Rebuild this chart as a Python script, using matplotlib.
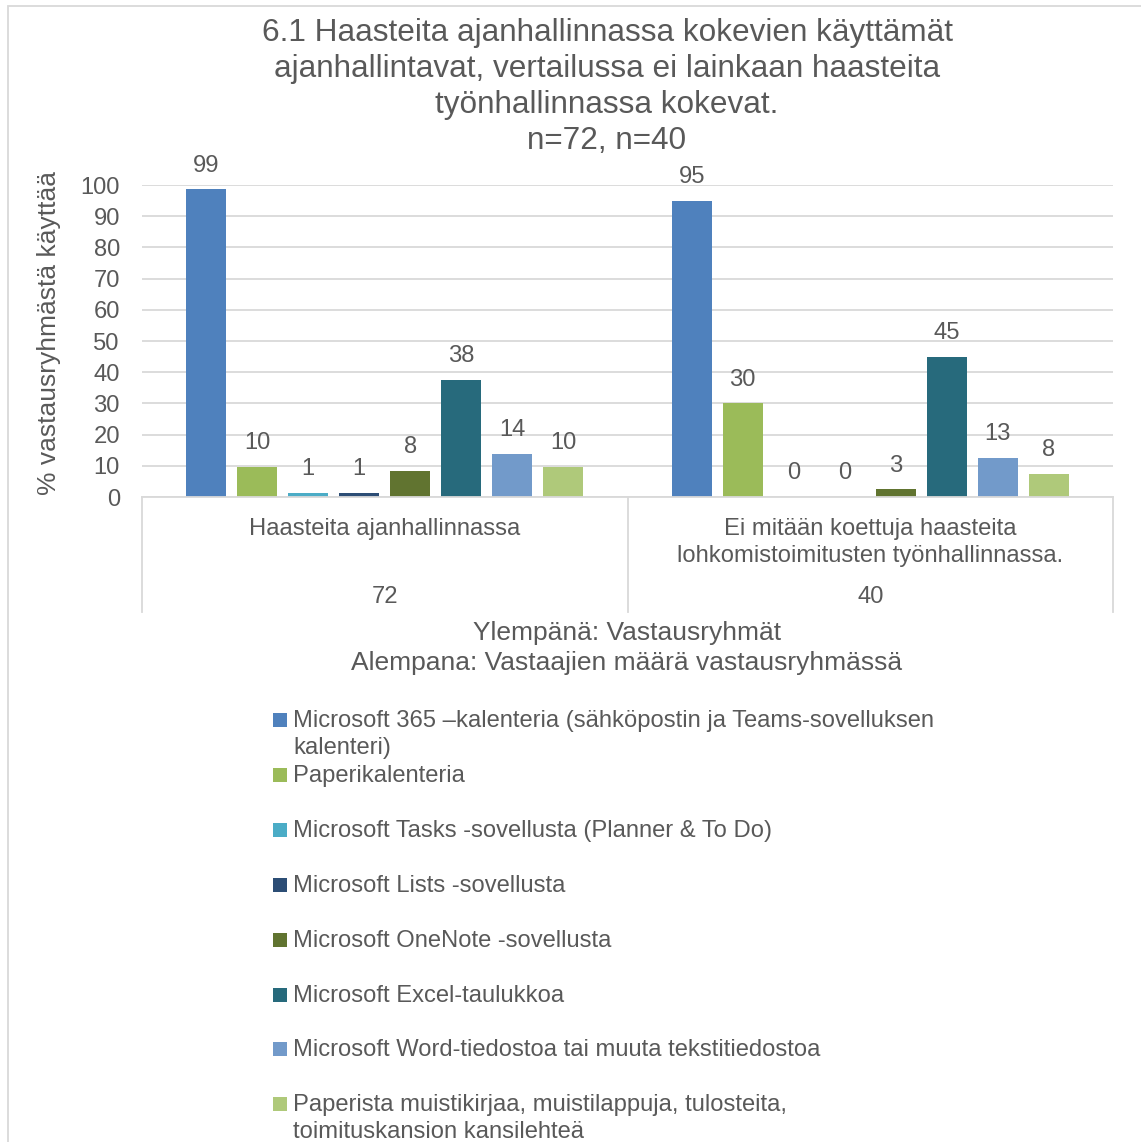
import numpy as np
import matplotlib
matplotlib.use("Agg")
import matplotlib.pyplot as plt
from matplotlib.patches import Rectangle
from matplotlib.transforms import blended_transform_factory

plt.rcParams['font.family'] = ['Liberation Sans', 'DejaVu Sans']

# data
title = ("6.1 Haasteita ajanhallinnassa kokevien käyttämät\n"
         "ajanhallintavat, vertailussa ei lainkaan haasteita\n"
         "työnhallinnassa kokevat.\n"
         "n=72, n=40")
ylabel = "% vastausryhmästä käyttää"
xlabel = "Ylempänä: Vastausryhmät\nAlempana: Vastaajien määrä vastausryhmässä"
groups = ["Haasteita ajanhallinnassa",
          "Ei mitään koettuja haasteita\nlohkomistoimitusten työnhallinnassa."]
group_n = ["72", "40"]
series = [
    "Microsoft 365 –kalenteria (sähköpostin ja Teams-sovelluksen\nkalenteri)",
    "Paperikalenteria",
    "Microsoft Tasks -sovellusta (Planner & To Do)",
    "Microsoft Lists -sovellusta",
    "Microsoft OneNote -sovellusta",
    "Microsoft Excel-taulukkoa",
    "Microsoft Word-tiedostoa tai muuta tekstitiedostoa",
    "Paperista muistikirjaa, muistilappuja, tulosteita,\ntoimituskansion kansilehteä",
]
colors = ["#4F81BD", "#9BBB59", "#4BACC6", "#2C4D75",
          "#617430", "#276A7C", "#729ACA", "#AFC97A"]
values_g1 = [98.6, 9.7, 1.4, 1.4, 8.3, 37.5, 13.9, 9.7]
values_g2 = [95.0, 30.0, 0.0, 0.0, 2.5, 45.0, 12.5, 7.5]
labels_g1 = ["99", "10", "1", "1", "8", "38", "14", "10"]
labels_g2 = ["95", "30", "0", "0", "3", "45", "13", "8"]
yticks = list(range(0, 101, 10))

W, H = 1141, 1142
TXT = "#595959"
GRID = "#D9D9D9"
FS = 17.1

fig = plt.figure(figsize=(W / 100, H / 100), dpi=100)

# chart border (cropped on right and bottom)
fig.add_artist(Rectangle((8 / W, -0.05), 1.2, 1.05 - 6 / H, transform=fig.transFigure,
                         fill=False, edgecolor=GRID, lw=1.3))

ax = fig.add_axes([142 / W, 1 - 497 / H, 971 / W, 312 / H])
ax.set_xlim(-0.5, 1.5)
ax.set_ylim(0, 100)
ax.set_yticks(yticks)
ax.set_xticks([])
ax.tick_params(axis='y', length=0, pad=16, labelsize=FS, labelcolor=TXT)
ax.grid(axis='y', color=GRID, lw=1.3)
ax.set_axisbelow(True)
for s in ["top", "right", "left"]:
    ax.spines[s].set_visible(False)
ax.spines["bottom"].set_color(GRID)
ax.spines["bottom"].set_linewidth(1.3)

pitch = 0.1051
width = 0.082
xg = np.arange(len(groups))
for i, name in enumerate(series):
    vals = [values_g1[i], values_g2[i]]
    labs = [labels_g1[i], labels_g2[i]]
    xs = xg + (i - (len(series) - 1) / 2) * pitch
    bars = ax.bar(xs, vals, width, color=colors[i], zorder=2)
    for b, lab in zip(bars, labs):
        ax.annotate(lab, (b.get_x() + b.get_width() / 2, b.get_height()),
                    xytext=(0, 17), textcoords="offset points", ha="center",
                    va="center", fontsize=FS, color=TXT, annotation_clip=False)

# multi-level category axis
tr = blended_transform_factory(ax.transData, ax.transAxes)
depth = -(612 - 497) / 312
for xv in [-0.5, 0.5, 1.5]:
    ax.plot([xv, xv], [0, depth], transform=tr, color=GRID, lw=1.3, clip_on=False)
for gi, (g, n) in enumerate(zip(groups, group_n)):
    ax.text(gi, -(518 - 497) / 312, g, transform=tr, ha="center", va="top",
            fontsize=FS, color=TXT, linespacing=1.3)
    ax.text(gi, -(597 - 497) / 312, n, transform=tr, ha="center", va="center",
            fontsize=FS, color=TXT)

fig.text(627 / W, 1 - 648 / H, xlabel, ha="center", va="center",
         fontsize=19, color=TXT, linespacing=1.3)
fig.text(49 / W, 1 - 333 / H, ylabel, rotation=90, ha="center", va="center",
         fontsize=19, color=TXT)
fig.text(607 / W, 1 - 87 / H, title, ha="center", va="center",
         fontsize=22.7, color=TXT, linespacing=1.25)

# legend
for i, (name, c) in enumerate(zip(series, colors)):
    yc = 720 + i * 54.9
    fig.add_artist(Rectangle((273 / W, 1 - (yc + 7) / H), 14 / W, 14 / H,
                             transform=fig.transFigure, color=c, lw=0))
    fig.text(293 / W, 1 - (yc - 10) / H, name, ha="left", va="top",
             fontsize=FS, color=TXT, linespacing=1.3)

fig.savefig("out.png", dpi=100, facecolor="white")
